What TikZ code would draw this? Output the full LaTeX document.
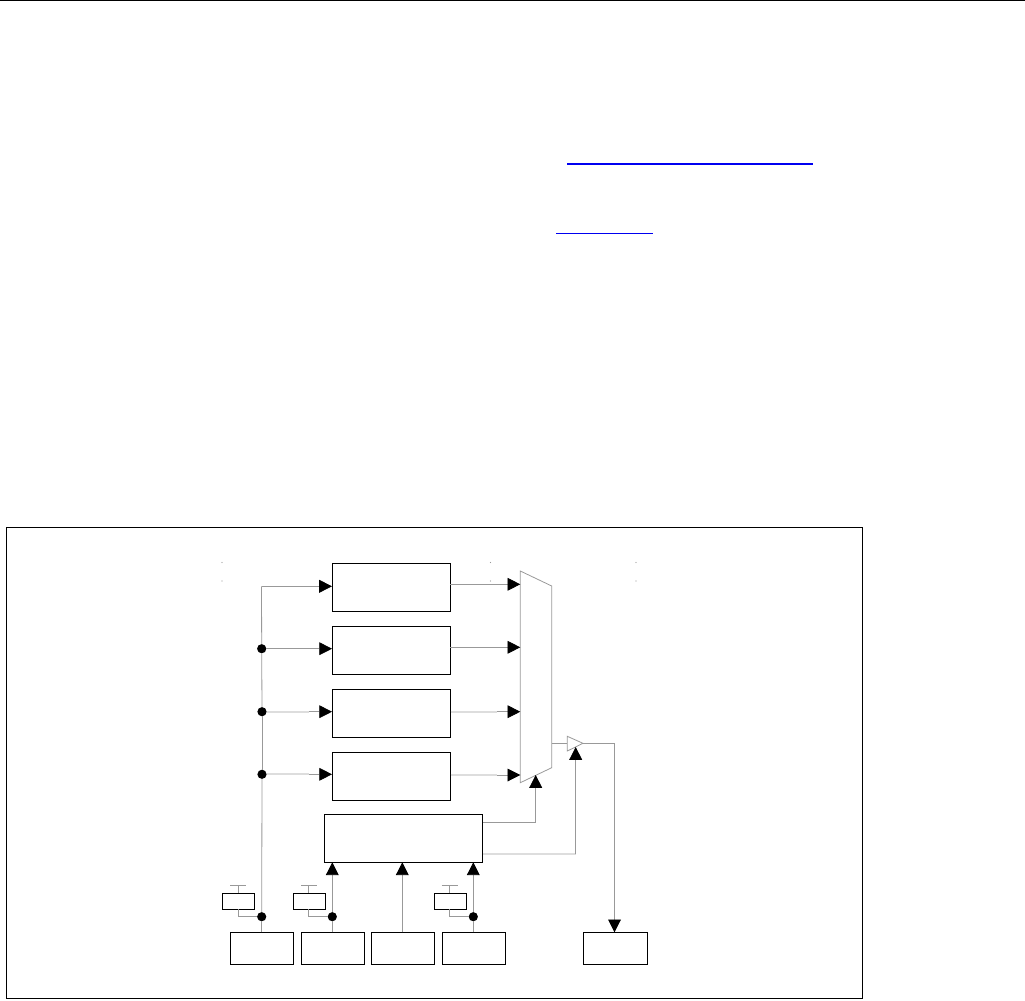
\documentclass[tikz,border=0pt]{standalone}
\usetikzlibrary{arrows.meta,calc}
\newlength{\px}
\setlength{\px}{0.75pt}
\definecolor{wire}{HTML}{999999}
\definecolor{fade}{HTML}{DDDDDD}
\definecolor{linkblue}{HTML}{0000F0}
\tikzset{
  x=0.75pt,y=-0.75pt,
  blockbox/.style={draw=black,line width=1\px,fill=white,inner sep=0pt,outer sep=0pt,minimum width=118.5\px,minimum height=48\px},
  ctrlbox/.style={blockbox,minimum width=158\px},
  pinbox/.style={blockbox,minimum width=63.5\px,minimum height=32\px},
  capbox/.style={blockbox,minimum width=32.4\px,minimum height=16\px},
  joint/.style={circle,fill=black,inner sep=0pt,outer sep=0pt,minimum size=9.2\px},
  wireline/.style={draw=wire,line width=0.8\px},
  fadeline/.style={draw=fade,line width=2\px},
  tipped/.style={wireline,-{Triangle[length=9.6pt,width=9.6pt,color=black]}},
  speck/.style={circle,fill=wire,inner sep=0pt,minimum size=1.2\px},
}
\begin{document}
\begin{tikzpicture}
\useasboundingbox (0,0) rectangle (1025,1000);
% page rule, outer frame and link underlines
\coordinate (ruleL) at (0,0.6); \coordinate (ruleR) at (1025,0.6);
\draw[black,line width=1.2\px] (ruleL) -- (ruleR);
\coordinate (linkAL) at (567,164); \coordinate (linkAR) at (813,164);
\draw[linkblue,line width=2\px] (linkAL) -- (linkAR);
\coordinate (linkBL) at (556,233.5); \coordinate (linkBR) at (653,233.5);
\draw[linkblue,line width=1\px] (linkBL) -- (linkBR);
\node[draw=black,line width=1\px,inner sep=0pt,outer sep=0pt,minimum width=855.5\px,minimum height=471\px] (frame) at (434.3,763) {};
% specks
\node[speck] (s1) at (222,562.5) {}; \node[speck] (s2) at (222,581) {};
\node[speck] (s3) at (490.5,562.5) {}; \node[speck] (s4) at (490.5,581) {};
\node[speck] (s5) at (636,562.5) {}; \node[speck] (s6) at (636,581) {};
% mux and buffer outlines
\coordinate (m1) at (520.3,571); \coordinate (m2) at (551.7,586);
\coordinate (m3) at (551.7,767.7); \coordinate (m4) at (520.3,782.7);
\draw[wireline] (m1) -- (m2) -- (m3) -- (m4) -- cycle;
\coordinate (b1) at (567.3,736.3); \coordinate (b2) at (583,743.3); \coordinate (b3) at (567.3,751);
\draw[wireline] (b1) -- (b2) -- (b3) -- cycle;
% blocks
\node[blockbox] (A) at (391.3,587.3) {};
\node[blockbox] (B) at (391.3,650.3) {};
\node[blockbox] (C) at (391.3,713.3) {};
\node[blockbox] (D) at (391.3,776.3) {};
\node[ctrlbox] (E) at (403.3,838.3) {};
\node[pinbox] (P1) at (262,948.3) {};
\node[pinbox] (P2) at (333,948.3) {};
\node[pinbox] (P3) at (403,948.3) {};
\node[pinbox] (P4) at (474,948.3) {};
\node[pinbox] (P5) at (615.3,948.3) {};
\node[capbox] (K1) at (238.5,901.3) {};
\node[capbox] (K2) at (309.5,901.3) {};
\node[capbox] (K3) at (450.5,901.3) {};
% joints
\node[joint] (J1) at (261.7,648.7) {};
\node[joint] (J2) at (262,711.7) {};
\node[joint] (J3) at (262,774.3) {};
\node[joint] (J4) at (261.7,916.7) {};
\node[joint] (J5) at (332.3,916.7) {};
\node[joint] (J6) at (473.3,916.7) {};
% main vertical bus
\coordinate (busTop) at (261.5,586.3);
\coordinate (busA) at (332,586.3);
\draw[wireline] (J4 |- P1.north) -- (J4);
\draw[wireline] (J4) -- (J3);
\draw[wireline] (J3) -- (J2);
\draw[wireline] (J2) -- (J1);
\draw[wireline] (J1) -- (busTop);
\draw[tipped] (busTop) -- (busA);
\draw[tipped] (J1) -- (J1 -| A.west);
\coordinate (c2a) at (309,711.7); \coordinate (c3a) at (309,774.3);
\draw[fadeline] (J2) -- (c2a);
\draw[fadeline] (J3) -- (c3a);
\draw[tipped] (c2a) -- (c2a -| C.west);
\draw[tipped] (c3a) -- (c3a -| D.west);
% block outputs to mux
\coordinate (o1) at (450,584.3); \coordinate (o2) at (450,647.3);
\coordinate (o3) at (450.5,711.7); \coordinate (o4) at (450.5,775);
\coordinate (o3b) at (497,711.7); \coordinate (o4b) at (497,775);
\draw[tipped] (o1) -- (o1 -| m1);
\draw[tipped] (o2) -- (o2 -| m1);
\draw[fadeline] (o3) -- (o3b);
\draw[fadeline] (o4) -- (o4b);
\draw[tipped] (o3b) -- (o3b -| m1);
\draw[tipped] (o4b) -- (o4b -| m1);
% mux to buffer to output pin
\coordinate (mo) at (551.7,743.3);
\draw[wireline] (mo) -- (mo -| b1);
\coordinate (bend) at (614.5,743.3);
\draw[wireline] (b2) -- (bend);
\draw[tipped] (bend) -- (bend |- P5.north);
% controller outputs
\coordinate (e1) at (482.8,822.3); \coordinate (e1b) at (535.7,822.3); \coordinate (e1t) at (535.7,775);
\draw[wireline] (e1) -- (e1b);
\draw[tipped] (e1b) -- (e1t);
\coordinate (e2) at (482.8,854); \coordinate (e2b) at (575.7,854); \coordinate (e2t) at (575.7,747);
\draw[fadeline] (e2) -- (e2b);
\draw[tipped] (e2b) -- (e2t);
% inputs to controller
\draw[wireline] (J5 |- P2.north) -- (J5);
\draw[tipped] (J5) -- (J5 |- E.south);
\coordinate (p3t) at (402.3,932.3);
\draw[tipped] (p3t) -- (p3t |- E.south);
\draw[wireline] (J6 |- P4.north) -- (J6);
\draw[tipped] (J6) -- (J6 |- E.south);
% capacitors
\coordinate (k1t) at (238.3,885.3); \coordinate (k1tl) at (230,885.3); \coordinate (k1tr) at (245.7,885.3);
\coordinate (k2t) at (308.3,885.3); \coordinate (k2tl) at (301,885.3); \coordinate (k2tr) at (316.7,885.3);
\coordinate (k3t) at (449.3,885.3); \coordinate (k3tl) at (441.7,885.3); \coordinate (k3tr) at (458,885.3);
\draw[wireline] (k1tl) -- (k1tr) (k1t) -- (k1t |- K1.north);
\draw[wireline] (k2tl) -- (k2tr) (k2t) -- (k2t |- K2.north);
\draw[wireline] (k3tl) -- (k3tr) (k3t) -- (k3t |- K3.north);
\coordinate (k1b) at (238.3,916.7); \coordinate (k2b) at (308.3,916.7); \coordinate (k3b) at (449.3,916.7);
\draw[wireline] (k1b |- K1.south) -- (k1b) -- (J4);
\draw[wireline] (k2b |- K2.south) -- (k2b) -- (J5);
\draw[wireline] (k3b |- K3.south) -- (k3b) -- (J6);
\end{tikzpicture}
\end{document}
